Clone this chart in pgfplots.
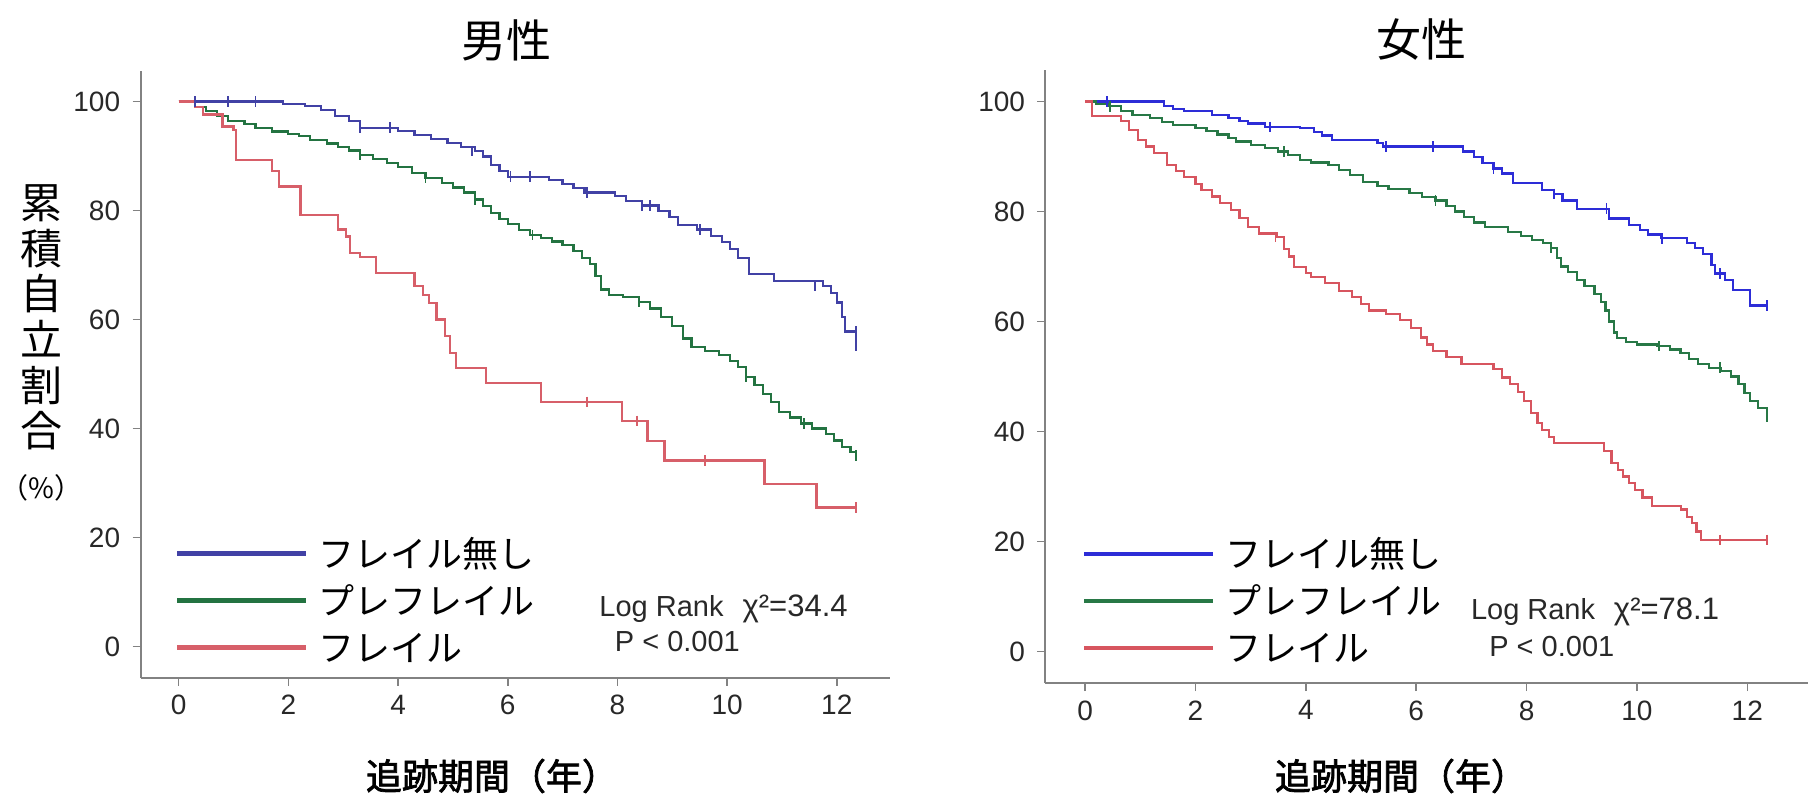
\documentclass[border=0pt]{standalone}
\usepackage{pgfplots}
\pgfplotsset{compat=1.18}
\usepackage{fontspec}
\setmainfont{Liberation Sans}
\newfontfamily\jp{Noto Sans CJK JP}
\newfontfamily\jpb{Noto Sans CJK JP}[FakeBold=2]
\definecolor{axisgray}{RGB}{130,130,130}
\definecolor{ticktext}{RGB}{40,40,40}
\definecolor{blueL}{RGB}{65,65,165}
\definecolor{greenL}{RGB}{35,115,65}
\definecolor{redL}{RGB}{215,95,105}
\definecolor{blueR}{RGB}{45,45,215}
\definecolor{greenR}{RGB}{40,120,70}
\definecolor{redR}{RGB}{215,85,95}

\pgfplotsset{
  kmbase/.style={
    scale only axis,
    axis lines=left,
    axis line style={-, draw=axisgray, line width=1pt},
    tick style={draw=axisgray, line width=0.8pt},
    tick align=outside,
    major tick length=4pt,
    xtick={0,2,...,12}, ytick={0,20,...,100},
    /pgf/number format/assume math mode=true,
    tick label style={font=\fontsize{14}{16}\selectfont, text=ticktext},
    xticklabel style={anchor=north, inner sep=0pt, yshift=-4.5pt},
    yticklabel style={anchor=east, inner sep=0pt, xshift=-6pt},
    legend cell align=left,
    legend image code/.code={\draw[#1, line width=2.2pt] (0pt,1pt) -- (64.4pt,1pt);},
    legend style={draw=none, fill=none, inner sep=0pt, outer sep=0pt,
      row sep=5.5pt,
      font=\jp\fontsize{18}{20}\selectfont,
      nodes={inner xsep=5pt, inner ysep=0pt, text height=15pt, text depth=3pt}},
  },
  km/.style={const plot, line width=1.1pt, mark=none},
  cm/.style={only marks, mark=|, mark size=2.6pt, mark options={line width=0.9pt}, forget plot},
}

\begin{document}
\begin{tikzpicture}[x=1pt,y=1pt]
\useasboundingbox (0,0) rectangle (904,400.5);

% ---------------- Male ----------------
\begin{axis}[kmbase,
  at={(70.25pt,61.5pt)}, anchor=south west,
  width=374.75pt, height=303.25pt,
  xmin=-0.696, xmax=12.97, ymin=-5.8, ymax=105.5,
  legend style={at={(axis cs:-0.07,19.97)}, anchor=north west}]
\addplot[km, blueL] coordinates {
(0,100) (1.9,99.6) (2.3,99.2) (2.6,98.5) (2.85,97.4) (3.1,96.4) (3.3,95.2)
(4.0,94.6) (4.3,93.9) (4.6,93.1) (4.9,92.4) (5.15,91.6) (5.4,90.9) (5.55,89.9)
(5.7,88.3) (5.85,87.3) (6.0,86.2) (6.75,85.6) (7.0,84.9) (7.2,84.1) (7.4,83.3)
(7.95,82.6) (8.15,81.8) (8.45,80.9) (8.75,79.9) (8.95,78.8) (9.1,77.4) (9.45,76.5)
(9.7,75.3) (9.9,74.2) (10.05,72.9) (10.2,71.2) (10.4,68.4) (10.85,67.0) (11.75,66.2)
(11.9,64.8) (12.0,63.1) (12.1,60.5) (12.15,57.8) (12.35,55.2)};
\addlegendentry{フレイル無し}
\addplot[km, greenL] coordinates {
(0,100) (0.3,99.0) (0.5,98.2) (0.7,97.3) (0.9,96.4) (1.2,95.8) (1.4,95.2) (1.7,94.5)
(2.0,94.1) (2.2,93.6) (2.4,93.0) (2.7,92.3) (2.9,91.7) (3.1,91.0) (3.3,90.2)
(3.55,89.5) (3.8,88.7) (4.0,88.0) (4.25,86.9) (4.5,86.0) (4.8,85.0) (5.0,84.2)
(5.2,83.3) (5.4,82.0) (5.55,80.8) (5.7,79.6) (5.85,78.5) (6.0,77.5) (6.2,76.4)
(6.4,75.5) (6.6,75.0) (6.8,74.3) (7.0,73.6) (7.2,72.5) (7.35,71.3) (7.5,70.2)
(7.6,68.0) (7.7,65.5) (7.85,64.5) (8.1,64.1) (8.4,63.2) (8.6,62.0) (8.8,60.5)
(9.0,58.8) (9.2,56.5) (9.35,55.0) (9.6,54.2) (9.85,53.4) (10.05,52.4) (10.2,51.2)
(10.35,49.5) (10.5,48.0) (10.65,46.3) (10.8,44.8) (10.95,43.0) (11.15,42.0)
(11.35,40.9) (11.55,40.0) (11.8,39.0) (11.95,37.8) (12.1,36.6) (12.25,35.6) (12.35,35.0)};
\addlegendentry{プレフレイル}
\addplot[km, redL] coordinates {
(0,100) (0.3,99.0) (0.45,97.6) (0.8,95.4) (1.0,94.8) (1.05,89.3) (1.7,87.2)
(1.83,84.4) (2.22,79.2) (2.9,76.5) (3.05,75.2) (3.12,72.2) (3.3,71.4) (3.6,68.5)
(4.3,66.1) (4.45,64.5) (4.57,63.0) (4.7,60.0) (4.85,57.0) (4.95,53.8) (5.05,51.1)
(5.6,48.3) (6.6,44.9) (8.08,41.4) (8.55,37.7) (8.86,34.1) (10.68,29.8) (11.63,25.5)
(12.35,25.5)};
\addlegendentry{フレイル}
\addplot[cm, blueL] coordinates {(0.3,100) (0.9,100) (1.4,100) (3.3,95.2) (3.85,95.2)
(5.35,90.9) (6.05,86.2) (6.4,86.2) (7.45,83.3) (8.45,80.9) (8.6,80.9) (9.5,76.5)
(11.6,66.2) (12.35,57.8) (12.35,55.2)};
\addplot[cm, greenL] coordinates {(3.3,90.2) (4.5,86.0) (5.4,82.0) (6.45,75.5)
(8.4,63.2) (10.35,49.5) (11.4,40.9) (12.35,35.0)};
\addplot[cm, redL] coordinates {(7.45,44.9) (8.35,41.4) (9.6,34.1) (12.35,25.5)};
\end{axis}

% ---------------- Female ----------------
\begin{axis}[kmbase,
  at={(522.7pt,58.95pt)}, anchor=south west,
  width=381.3pt, height=306.5pt,
  xmin=-0.718, xmax=13.1, ymin=-5.75, ymax=105.7,
  legend style={at={(axis cs:-0.05,20.65)}, anchor=north west}]
\addplot[km, blueR] coordinates {
(0,100) (1.43,99.1) (1.6,98.6) (1.8,98.2) (2.3,97.6) (2.6,97.0) (2.8,96.5) (2.95,96.0)
(3.26,95.4) (3.9,95.1) (4.15,94.5) (4.3,93.8) (4.47,93.0) (5.3,92.4) (5.4,91.8)
(6.85,90.9) (7.05,89.9) (7.2,88.8) (7.4,87.8) (7.55,86.9) (7.76,85.1) (8.28,83.9)
(8.5,83.2) (8.65,82.0) (8.91,80.5) (9.5,78.7) (9.85,77.5) (10.05,76.6) (10.2,75.8)
(10.43,75.1) (10.9,74.2) (11.05,73.3) (11.2,72.3) (11.35,70.2) (11.42,68.7)
(11.6,67.5) (11.74,65.7) (12.05,62.9) (12.36,62.9)};
\addlegendentry{フレイル無し}
\addplot[km, greenR] coordinates {
(0,100) (0.2,99.5) (0.44,99.1) (0.65,98.3) (0.86,97.6) (1.17,97.0) (1.4,96.3)
(1.59,95.7) (2.0,95.1) (2.2,94.6) (2.4,94.0) (2.6,93.3) (2.74,92.7) (3.0,92.1)
(3.26,91.5) (3.5,90.9) (3.68,90.3) (3.9,89.4) (4.1,88.9) (4.41,88.5) (4.6,87.6)
(4.8,86.6) (5.04,85.4) (5.3,84.6) (5.5,84.1) (5.88,83.3) (6.1,82.6) (6.35,82.0)
(6.55,81.0) (6.7,80.0) (6.87,79.0) (7.05,78.0) (7.24,77.2) (7.66,76.3) (7.9,75.6)
(8.1,74.8) (8.3,74.2) (8.44,73.4) (8.55,71.5) (8.62,70.0) (8.75,69.0) (8.91,67.5)
(9.05,66.5) (9.23,65.0) (9.35,63.5) (9.43,62.0) (9.5,60.0) (9.58,58.0) (9.64,57.0)
(9.8,56.2) (10.0,55.8) (10.37,55.5) (10.6,54.9) (10.79,54.3) (10.95,53.2) (11.1,52.3)
(11.3,51.6) (11.52,51.0) (11.7,50.0) (11.84,48.6) (11.95,47.0) (12.05,45.6)
(12.2,44.2) (12.36,42.6)};
\addlegendentry{プレフレイル}
\addplot[km, redR] coordinates {
(0,100) (0.13,97.3) (0.65,96.4) (0.8,94.8) (0.96,93.0) (1.1,91.8) (1.25,90.6)
(1.48,88.5) (1.65,87.4) (1.8,86.3) (2.0,85.0) (2.11,83.9) (2.3,82.7) (2.45,81.6)
(2.64,80.3) (2.8,78.8) (2.95,77.2) (3.15,76.0) (3.47,75.4) (3.6,73.2) (3.7,71.8)
(3.79,69.9) (4.0,68.8) (4.1,68.1) (4.35,67.0) (4.6,65.5) (4.83,64.4) (5.0,63.1)
(5.15,62.0) (5.46,61.4) (5.7,60.2) (5.9,58.8) (6.09,57.1) (6.2,55.8) (6.3,54.7)
(6.55,53.5) (6.82,52.3) (7.4,51.3) (7.55,49.8) (7.7,48.6) (7.85,47.2) (7.95,45.5)
(8.08,43.3) (8.2,41.5) (8.28,40.3) (8.4,39.0) (8.49,37.9) (9.4,36.5) (9.54,34.2)
(9.65,33.0) (9.75,31.8) (9.85,30.6) (9.96,29.4) (10.1,28.0) (10.27,26.4) (10.8,25.8)
(10.9,24.5) (11.0,23.3) (11.08,21.8) (11.16,20.3) (12.36,20.3)};
\addlegendentry{フレイル}
\addplot[cm, blueR] coordinates {(0.4,100) (3.35,95.4) (5.45,91.8) (6.3,91.8)
(7.4,87.8) (8.5,83.2) (9.45,80.5) (10.45,75.1) (11.5,68.7) (12.36,62.9)};
\addplot[cm, greenR] coordinates {(0.45,99.1) (3.6,90.9) (6.35,82.0) (8.45,73.4)
(10.4,55.5) (11.5,51.6) (12.36,42.6)};
\addplot[cm, redR] coordinates {(3.45,75.4) (11.5,20.3) (12.36,20.3)};
\end{axis}

% ---------------- Texts ----------------
\node[font=\jp\fontsize{22.5}{24}\selectfont] at (253.25,380.5) {男性};
\node[font=\jp\fontsize{22.5}{24}\selectfont] at (710.5,380.5) {女性};
\node[font=\jpb\fontsize{18}{20}\selectfont] at (246,12.5) {追跡期間（年）};
\node[font=\jpb\fontsize{18}{20}\selectfont] at (700.5,12.5) {追跡期間（年）};
\node[align=center, inner sep=0pt, font=\jp\fontsize{21}{22.85}\selectfont] at (20.75,229)
  {累\\積\\自\\立\\割\\合\\[3pt]{\jp\fontsize{14}{14}\selectfont（\%）}};
\node[anchor=base west, inner sep=0pt, font=\fontsize{14.5}{16}\selectfont, text=ticktext] at (299.5,92.4) {Log Rank};
\node[anchor=base east, inner sep=0pt, font=\fontsize{15.5}{17}\selectfont, text=ticktext] at (424,92.4) {χ²=34.4};
\node[inner sep=0pt, font=\fontsize{14.5}{16}\selectfont, text=ticktext] at (338.7,79.5) {P < 0.001};
\node[anchor=base west, inner sep=0pt, font=\fontsize{14.5}{16}\selectfont, text=ticktext] at (735.3,90.6) {Log Rank};
\node[anchor=base east, inner sep=0pt, font=\fontsize{15.5}{17}\selectfont, text=ticktext] at (859.7,90.6) {χ²=78.1};
\node[inner sep=0pt, font=\fontsize{14.5}{16}\selectfont, text=ticktext] at (775.9,77.25) {P < 0.001};
\end{tikzpicture}
\end{document}
